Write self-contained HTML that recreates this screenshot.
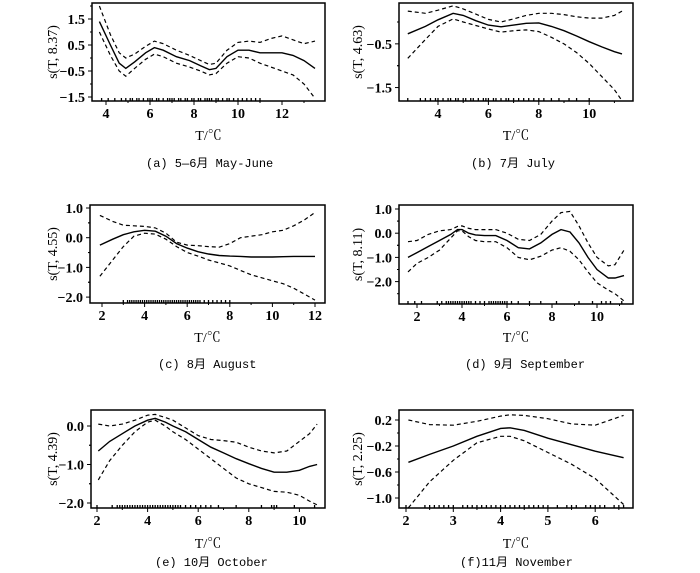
<!DOCTYPE html>
<html><head><meta charset="utf-8"><style>
body{margin:0;background:#fff;width:700px;height:568px;overflow:hidden}
svg text{font-family:"Liberation Serif","Noto Serif CJK SC",serif;fill:#000}
.cap{font-family:"Liberation Mono","Noto Sans CJK SC",monospace;font-size:12px}
.tk{font-size:14px;font-weight:bold}
</style></head><body>
<svg id="chart" width="700" height="568" viewBox="0 0 700 568" xmlns="http://www.w3.org/2000/svg"></svg>
<script>
// Panel (a)
const aX=[3.7,4.2,4.6,4.9,5.3,5.8,6.2,6.6,7.2,7.8,8.3,8.7,9.0,9.5,10.0,10.5,11.0,11.5,12.0,12.5,13.0,13.5];
const aFit=[1.4,0.5,-0.2,-0.4,-0.15,0.2,0.4,0.3,0.05,-0.1,-0.3,-0.45,-0.4,0.05,0.3,0.3,0.2,0.2,0.2,0.1,-0.1,-0.4];
const aUp=[2.0,0.9,0.2,0.0,0.15,0.45,0.65,0.55,0.3,0.1,-0.1,-0.25,-0.2,0.3,0.6,0.65,0.6,0.75,0.85,0.7,0.55,0.65];
const aLo=[1.0,0.1,-0.5,-0.7,-0.4,-0.05,0.15,0.05,-0.2,-0.35,-0.5,-0.65,-0.6,-0.2,0.05,0.0,-0.2,-0.35,-0.5,-0.65,-1.0,-1.55];
const aRug=[3.8,4.1,4.4,4.7,4.9,5.1,5.2,5.4,5.5,5.7,5.9,6.0,6.1,6.3,6.4,6.6,6.8,6.9,7.0,7.1,7.3,7.4,7.6,7.7,7.9,8.0,8.2,8.3,8.5,8.6,8.7,8.8,9.0,9.1,9.3,9.5,9.6,9.8,10.0,10.2,10.4,10.6,10.8,11.0];
const aYTicks=[1.5,0.5,-0.5,-1.5];
// Panel (b)
const bX=[2.8,3.5,4.0,4.6,5.0,5.5,6.0,6.5,7.0,7.5,8.0,8.5,9.0,9.5,10.0,10.5,11.0,11.3];
const bFit=[-0.27,-0.1,0.05,0.2,0.15,0.03,-0.07,-0.11,-0.07,-0.03,-0.02,-0.1,-0.2,-0.32,-0.45,-0.57,-0.68,-0.73];
const bUp=[0.25,0.2,0.27,0.37,0.3,0.18,0.06,0.0,0.07,0.15,0.2,0.2,0.17,0.12,0.09,0.09,0.15,0.25];
const bLo=[-0.83,-0.4,-0.1,0.07,0.0,-0.08,-0.16,-0.23,-0.2,-0.18,-0.22,-0.35,-0.5,-0.7,-0.95,-1.25,-1.55,-1.8];
const bRug=[2.8,3.3,3.5,3.7,3.9,4.0,4.2,4.4,4.5,4.7,4.8,5.0,5.1,5.3,5.4,5.6,5.8,5.9,6.0,6.2,6.3,6.5,6.7,6.8,7.0,7.2,7.4,7.6,7.8,8.0,8.2,8.5,8.8,9.2,9.5,10.0];
const bYTicks=[-0.5,-1.5];
// Panel (c)
const cX=[1.9,2.5,3.0,3.5,4.0,4.5,5.0,5.5,6.0,6.5,7.0,7.5,8.0,8.5,9.0,9.5,10.0,10.5,11.0,11.5,12.0];
const cFit=[-0.25,-0.05,0.1,0.2,0.25,0.22,0.05,-0.2,-0.35,-0.47,-0.55,-0.6,-0.62,-0.63,-0.65,-0.65,-0.65,-0.64,-0.63,-0.63,-0.63];
const cUp=[0.75,0.55,0.42,0.4,0.38,0.33,0.15,-0.15,-0.25,-0.27,-0.3,-0.32,-0.2,0.0,0.05,0.1,0.2,0.25,0.4,0.6,0.85];
const cLo=[-1.3,-0.75,-0.3,0.05,0.15,0.12,-0.05,-0.3,-0.5,-0.62,-0.75,-0.85,-0.95,-1.1,-1.25,-1.35,-1.45,-1.55,-1.7,-1.9,-2.1];
const cRug=[3.0,3.2,3.3,3.4,3.5,3.6,3.7,3.8,3.9,4.0,4.1,4.2,4.3,4.4,4.5,4.6,4.7,4.8,4.9,5.0,5.1,5.2,5.3,5.4,5.5,5.6,5.7,5.8,5.9,6.0,6.1,6.2,6.3,6.4,6.5,6.6,6.8,7.0,7.2,7.4,7.6,7.8,8.0];
const cYTicks=[1.0,0.0,-1.0,-2.0];
// Panel (d)
const dX=[1.6,2.0,2.5,3.0,3.5,3.8,4.0,4.3,4.6,5.0,5.5,6.0,6.5,7.0,7.5,8.0,8.4,8.8,9.2,9.6,10.0,10.5,10.8,11.2];
const dFit=[-1.0,-0.8,-0.55,-0.3,-0.05,0.15,0.15,0.0,-0.07,-0.1,-0.1,-0.3,-0.6,-0.65,-0.4,-0.05,0.15,0.05,-0.4,-1.0,-1.5,-1.85,-1.85,-1.75];
const dUp=[-0.35,-0.3,-0.05,0.1,0.15,0.28,0.3,0.2,0.15,0.15,0.15,0.0,-0.25,-0.3,-0.05,0.5,0.85,0.9,0.3,-0.4,-1.0,-1.35,-1.3,-0.7];
const dLo=[-1.6,-1.25,-1.0,-0.7,-0.2,0.1,0.1,-0.15,-0.3,-0.35,-0.35,-0.6,-1.0,-1.1,-0.95,-0.7,-0.6,-0.75,-1.1,-1.6,-2.05,-2.35,-2.5,-2.8];
const dRug=[1.6,1.9,2.2,2.9,3.1,3.3,3.4,3.5,3.6,3.7,3.8,3.9,4.0,4.1,4.2,4.3,4.4,4.6,4.8,5.0,5.2,5.3,5.4,5.5,5.6,5.7,5.8,5.9,6.0,6.2,6.5,7.0,7.5,8.2,9.2,9.8,10.2,10.4,10.6,11.1];
const dYTicks=[1.0,0.0,-1.0,-2.0];
// Panel (e)
const eX=[2.05,2.5,3.0,3.5,4.0,4.3,4.7,5.0,5.5,6.0,6.5,7.0,7.5,8.0,8.5,9.0,9.5,10.0,10.4,10.7];
const eFit=[-0.65,-0.4,-0.2,0.0,0.15,0.2,0.1,0.0,-0.15,-0.35,-0.55,-0.7,-0.85,-0.98,-1.1,-1.2,-1.2,-1.15,-1.05,-1.0];
const eUp=[0.05,0.0,0.05,0.15,0.28,0.3,0.22,0.15,-0.05,-0.25,-0.35,-0.38,-0.42,-0.55,-0.65,-0.7,-0.65,-0.4,-0.2,0.05];
const eLo=[-1.4,-0.9,-0.5,-0.15,0.1,0.15,0.0,-0.15,-0.35,-0.6,-0.85,-1.1,-1.35,-1.5,-1.6,-1.7,-1.72,-1.8,-1.95,-2.05];
const eRug=[2.0,2.6,2.8,2.9,3.0,3.1,3.2,3.3,3.4,3.5,3.6,3.7,3.8,3.9,4.0,4.1,4.2,4.3,4.4,4.5,4.6,4.7,4.8,4.9,5.0,5.1,5.2,5.3,5.5,5.7,5.9,6.1,6.3,6.5,6.8,7.5,8.5,8.9,9.0,9.1,9.8,10.6];
const eYTicks=[0.0,-1.0,-2.0];
// Panel (f)
const fX=[2.05,2.5,3.0,3.5,4.0,4.2,4.5,5.0,5.5,6.0,6.6];
const fFit=[-0.45,-0.33,-0.2,-0.05,0.07,0.08,0.04,-0.08,-0.18,-0.28,-0.38];
const fUp=[0.2,0.13,0.12,0.18,0.26,0.28,0.27,0.22,0.14,0.12,0.27];
const fLo=[-1.15,-0.75,-0.42,-0.15,-0.05,-0.05,-0.12,-0.3,-0.48,-0.7,-1.1];
const fRug=[2.0,2.4,2.5,2.6,2.7,2.8,2.9,3.0,3.2,3.3,3.4,3.5,3.6,3.7,3.8,3.9,4.0,4.1,4.2,4.3,4.4,4.5,4.6,4.7,4.8,4.9,5.0,5.2,5.4,5.5,5.6,5.8,5.9,6.0,6.1,6.2,6.4,6.5,6.6];
const fYTicks=[0.2,-0.2,-0.6,-1.0];

const NS='http://www.w3.org/2000/svg';
const svg=document.getElementById('chart');
function mk(tag,attrs,parent){const e=document.createElementNS(NS,tag);for(const k in attrs)e.setAttribute(k,attrs[k]);(parent||svg).appendChild(e);return e;}
function fmt(v){const s=Math.abs(v).toFixed(1);return (v<0?'−':'')+s;}
function panel(p){
  const g=mk('g',{});
  
  
  const sx=v=>p.px0+(v-p.vx0)*p.kx, sy=v=>p.py0-(v-p.vy0)*p.ky;
  const frame=mk('rect',{x:p.l,y:p.t,width:p.r-p.l,height:p.b-p.t,fill:'none',stroke:'#000','stroke-width':1.5},g);
  
  
  p.xTicks.forEach((v,i)=>{
    const x=sx(v);
    mk('line',{x1:x,x2:x,y1:p.b,y2:p.b+(i%2?2:4),stroke:'#000'},g);
    if(i%2===0){const t=mk('text',{x:x,y:p.b+17,'text-anchor':'middle','class':'tk'},g);t.textContent=p.xLab(v);
      
      }
  });
  p.yTicks.forEach(v=>{
    const y=sy(v);
    mk('line',{x1:p.l-4,x2:p.l,y1:y,y2:y,stroke:'#000'},g);
    const t=mk('text',{x:p.l-7,y:y+5,'text-anchor':'end','class':'tk'},g);t.textContent=fmt(v);
    
    
    [v+p.yStep/2,v-p.yStep/2].forEach(m=>{const y2=sy(m); if(y2>p.t+2&&y2<p.b-2) mk('line',{x1:p.l-2,x2:p.l,y1:y2,y2:y2,stroke:'#000'},g);});
  });
  const pts=a=>p.x.map((v,i)=>sx(v).toFixed(1)+','+sy(a[i]).toFixed(1)).join(' ');
  const fit=mk('polyline',{points:pts(p.fit),fill:'none',stroke:'#000','stroke-width':1.4},g);
  
  
  const up=mk('polyline',{points:pts(p.up),fill:'none',stroke:'#000','stroke-width':1.2,'stroke-dasharray':'4,3'},g);
  
  
  const lo=mk('polyline',{points:pts(p.lo),fill:'none',stroke:'#000','stroke-width':1.2,'stroke-dasharray':'4,3'},g);
  
  
  p.rug.forEach(v=>{const x=sx(v);const r=mk('line',{x1:x,x2:x,y1:p.b-3,y2:p.b,stroke:'#000','stroke-width':1.3},g);
    
    });
  const yt=mk('text',{x:0,y:0,transform:'translate('+p.ytx+','+((p.t+p.b)/2)+') rotate(-90)','text-anchor':'middle','font-size':14},g);
  yt.textContent=p.ylab;
  
  
  const xt=mk('text',{x:(p.l+p.r)/2,y:p.xty,'text-anchor':'middle','font-size':14},g);
  xt.textContent='T/℃';
  
  
  const cp=mk('text',{x:p.capx,y:p.capy,'class':'cap'},g);
  cp.textContent=p.cap;
  
  
}
const int=v=>String(v);
panel({id:'a',l:92,r:325,t:3,b:101,px0:106,vx0:4,kx:22,py0:58,vy0:0,ky:26,x:aX,fit:aFit,up:aUp,lo:aLo,rug:aRug,
  xTicks:[4,5,6,7,8,9,10,11,12,13],xLab:int,yTicks:aYTicks,yStep:-1,ylab:'s(T, 8.37)',ytx:57,xty:140,cap:'(a) 5—6月 May-June',capx:146,capy:167});
panel({id:'b',l:399,r:633,t:3,b:101,px0:438,vx0:4,kx:25.2,py0:22,vy0:0,ky:43.7,x:bX,fit:bFit,up:bUp,lo:bLo,rug:bRug,
  xTicks:[4,5,6,7,8,9,10,11],xLab:int,yTicks:bYTicks,yStep:-1,ylab:'s(T, 4.63)',ytx:362,xty:140,cap:'(b) 7月 July',capx:471,capy:167});
panel({id:'c',l:90,r:325,t:205,b:303,px0:102,vx0:2,kx:21.3,py0:237.7,vy0:0,ky:29.7,x:cX,fit:cFit,up:cUp,lo:cLo,rug:cRug,
  xTicks:[2,3,4,5,6,7,8,9,10,11,12],xLab:int,yTicks:cYTicks,yStep:-1,ylab:'s(T, 4.55)',ytx:57,xty:342,cap:'(c) 8月 August',capx:158,capy:368});
panel({id:'d',l:399,r:633,t:205,b:304,px0:417,vx0:2,kx:22.5,py0:233.2,vy0:0,ky:24.2,x:dX,fit:dFit,up:dUp,lo:dLo,rug:dRug,
  xTicks:[2,3,4,5,6,7,8,9,10,11],xLab:int,yTicks:dYTicks,yStep:-1,ylab:'s(T, 8.11)',ytx:362,xty:342,cap:'(d) 9月 September',capx:465,capy:368});
panel({id:'e',l:91,r:325,t:410,b:508,px0:97,vx0:2,kx:25.3,py0:426,vy0:0,ky:38.5,x:eX,fit:eFit,up:eUp,lo:eLo,rug:eRug,
  xTicks:[2,3,4,5,6,7,8,9,10],xLab:int,yTicks:eYTicks,yStep:-1,ylab:'s(T, 4.39)',ytx:57,xty:548,cap:'(e) 10月 October',capx:155,capy:566});
panel({id:'f',l:399,r:633,t:410,b:508,px0:406,vx0:2,kx:47.3,py0:433,vy0:0,ky:65,x:fX,fit:fFit,up:fUp,lo:fLo,rug:fRug,
  xTicks:[2,2.5,3,3.5,4,4.5,5,5.5,6,6.5],xLab:int,yTicks:fYTicks,yStep:-0.4,ylab:'s(T, 2.25)',ytx:362,xty:548,cap:'(f)11月 November',capx:460,capy:566});
</script>
</body></html>
